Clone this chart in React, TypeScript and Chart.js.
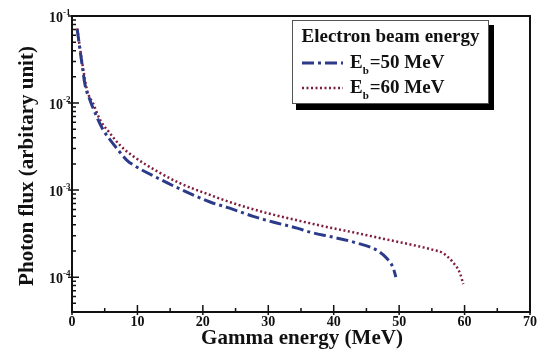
import React, { useEffect, useRef } from 'react';
import { Chart, registerables } from 'chart.js';

Chart.register(...registerables);

// Electron beam 50 MeV
const energy50 = [0.8, 1.5, 2.0, 2.75, 3.8, 4.7, 5.8, 7.2, 8.4, 9.6, 13.4, 16.5, 21.1, 24.1, 27.7, 30.7, 34.4, 36.4, 39.9, 43.6, 46.6, 48.1, 49.1, 49.5];
const flux50 = [0.07, 0.029, 0.0161, 0.0108, 0.0069, 0.005, 0.0038, 0.0028, 0.0022, 0.0019, 0.00134, 0.00103, 0.00073, 0.00062, 0.0005, 0.00043, 0.000366, 0.000329, 0.000288, 0.000246, 0.000204, 0.000165, 0.000127, 0.0001];

// Electron beam 60 MeV
const energy60 = [0.8, 1.5, 2.3, 3.2, 4.3, 5.8, 7.3, 9.2, 13.3, 16.5, 21.1, 24.1, 29.2, 34.4, 38.4, 43.6, 48.6, 53.6, 55.2, 56.7, 58.2, 59.3, 59.8];
const flux60 = [0.072, 0.031, 0.0141, 0.01, 0.0064, 0.0045, 0.0033, 0.0025, 0.0016, 0.0012, 0.00088, 0.00073, 0.00056, 0.00045, 0.000385, 0.00032, 0.000266, 0.000221, 0.000206, 0.000189, 0.000149, 0.000111, 0.000083];

const xTickValues = [0, 10, 20, 30, 40, 50, 60, 70];
const xMinorTickValues = [5, 15, 25, 35, 45, 55, 65];
const yTickExponents = [-1, -2, -3, -4];
const legendTitle = 'Electron beam energy';
const seriesValues = ['=50 MeV', '=60 MeV'];
const xTitle = 'Gamma energy (MeV)';
const yTitle = 'Photon flux (arbitary unit)';

const BLUE = '#2c3a8a';
const RED = '#7e1e3c';
const FONT = '"Liberation Serif", "Times New Roman", serif';

const decorPlugin = {
  id: 'decor',
  afterDraw(chart: any) {
    const ctx = chart.ctx as CanvasRenderingContext2D;
    const xs = chart.scales.x;
    const ys = chart.scales.y;
    const a = chart.chartArea;
    ctx.save();
    ctx.strokeStyle = '#111';
    ctx.fillStyle = '#111';
    ctx.lineWidth = 2;
    ctx.strokeRect(a.left, a.top, a.right - a.left, a.bottom - a.top);

    // x ticks
    ctx.lineWidth = 1.5;
    ctx.beginPath();
    for (const v of xTickValues) {
      const px = xs.getPixelForValue(v);
      ctx.moveTo(px, a.bottom + 3);
      ctx.lineTo(px, a.bottom - 7);
    }
    for (const v of xMinorTickValues) {
      const px = xs.getPixelForValue(v);
      ctx.moveTo(px, a.bottom);
      ctx.lineTo(px, a.bottom - 4);
    }
    // y ticks
    for (let e = -5; e <= -1; e++) {
      for (let m = 1; m <= 9; m++) {
        const v = m * Math.pow(10, e);
        if (v < ys.min - 1e-12 || v > ys.max + 1e-12) continue;
        const py = ys.getPixelForValue(v);
        if (m === 1) {
          ctx.moveTo(a.left - 4, py);
          ctx.lineTo(a.left + 7, py);
        } else {
          ctx.moveTo(a.left, py);
          ctx.lineTo(a.left + 4, py);
        }
      }
    }
    ctx.stroke();

    // x labels
    ctx.font = `bold 14px ${FONT}`;
    ctx.textAlign = 'center';
    ctx.textBaseline = 'middle';
    for (const v of xTickValues) {
      ctx.fillText(String(v), xs.getPixelForValue(v), a.bottom + 10);
    }
    // y labels
    for (const e of yTickExponents) {
      const py = ys.getPixelForValue(Math.pow(10, e));
      ctx.font = `bold 14px ${FONT}`;
      ctx.textAlign = 'right';
      ctx.textBaseline = 'middle';
      ctx.fillText('10', a.left - 9, py + 2);
      ctx.font = `bold 9px ${FONT}`;
      ctx.textAlign = 'left';
      ctx.fillText(String(e), a.left - 9, py - 3);
    }

    // axis titles
    ctx.font = `bold 21px ${FONT}`;
    ctx.textAlign = 'center';
    ctx.textBaseline = 'middle';
    ctx.fillText(xTitle, (a.left + a.right) / 2 + 1, a.bottom + 27);
    ctx.save();
    ctx.translate(28, (a.top + a.bottom) / 2 + 2);
    ctx.rotate(-Math.PI / 2);
    ctx.fillText(yTitle, 0, 0);
    ctx.restore();

    // legend
    const lx = 292, ly = 20, lw = 197, lh = 84;
    ctx.fillStyle = '#000';
    ctx.fillRect(lx + 4, ly + 5, lw + 1, lh + 1);
    ctx.fillStyle = '#fff';
    ctx.fillRect(lx, ly, lw, lh);
    ctx.strokeStyle = '#555';
    ctx.lineWidth = 1;
    ctx.strokeRect(lx + 0.5, ly + 0.5, lw - 1, lh - 1);

    ctx.fillStyle = '#111';
    ctx.font = `bold 19px ${FONT}`;
    ctx.textAlign = 'center';
    ctx.textBaseline = 'middle';
    ctx.fillText(legendTitle, lx + lw / 2, ly + 17);

    const rows = [
      { y: ly + 43, color: BLUE, dash: [12, 4, 3, 4], width: 3 },
      { y: ly + 68, color: RED, dash: [2, 2.5], width: 2.5 },
    ];
    rows.forEach((r, i) => {
      ctx.save();
      ctx.strokeStyle = r.color;
      ctx.lineWidth = r.width;
      ctx.setLineDash(r.dash);
      ctx.beginPath();
      ctx.moveTo(lx + 10, r.y);
      ctx.lineTo(lx + 51, r.y);
      ctx.stroke();
      ctx.restore();
      ctx.fillStyle = '#111';
      ctx.textAlign = 'left';
      ctx.textBaseline = 'middle';
      ctx.font = `bold 19px ${FONT}`;
      let x = lx + 58;
      ctx.fillText('E', x, r.y);
      x += ctx.measureText('E').width;
      ctx.font = `bold 11px ${FONT}`;
      ctx.fillText('b', x, r.y + 8);
      x += ctx.measureText('b').width + 1;
      ctx.font = `bold 19px ${FONT}`;
      ctx.fillText(seriesValues[i], x, r.y);
    });
    ctx.restore();
  },
};

export default function App() {
  const ref = useRef<HTMLCanvasElement | null>(null);
  useEffect(() => {
    if (!ref.current) return;
    const chart = new Chart(ref.current, {
      type: 'line',
      data: {
        datasets: [
          {
            label: 'Eb=50 MeV',
            data: energy50.map((x, i) => ({ x, y: flux50[i] })),
            borderColor: BLUE,
            borderWidth: 3,
            borderDash: [12, 4, 3, 4],
            pointRadius: 0,
            cubicInterpolationMode: 'monotone',
            fill: false,
          },
          {
            label: 'Eb=60 MeV',
            data: energy60.map((x, i) => ({ x, y: flux60[i] })),
            borderColor: RED,
            borderWidth: 2.5,
            borderDash: [2, 2.5],
            pointRadius: 0,
            cubicInterpolationMode: 'monotone',
            fill: false,
          },
        ],
      },
      options: {
        responsive: false,
        animation: false,
        layout: { padding: { left: 72, right: 20, top: 16, bottom: 40 } },
        plugins: { legend: { display: false }, tooltip: { enabled: false } },
        scales: {
          x: { type: 'linear', min: 0, max: 70, display: false },
          y: { type: 'logarithmic', min: 3.98e-5, max: 0.1, display: false },
        },
      },
      plugins: [decorPlugin],
    });
    return () => chart.destroy();
  }, []);
  return (
    <div style={{ position: 'absolute', left: 0, top: 0, width: 550, height: 352, background: '#fff' }}>
      <canvas ref={ref} width={550} height={352} />
    </div>
  );
}
